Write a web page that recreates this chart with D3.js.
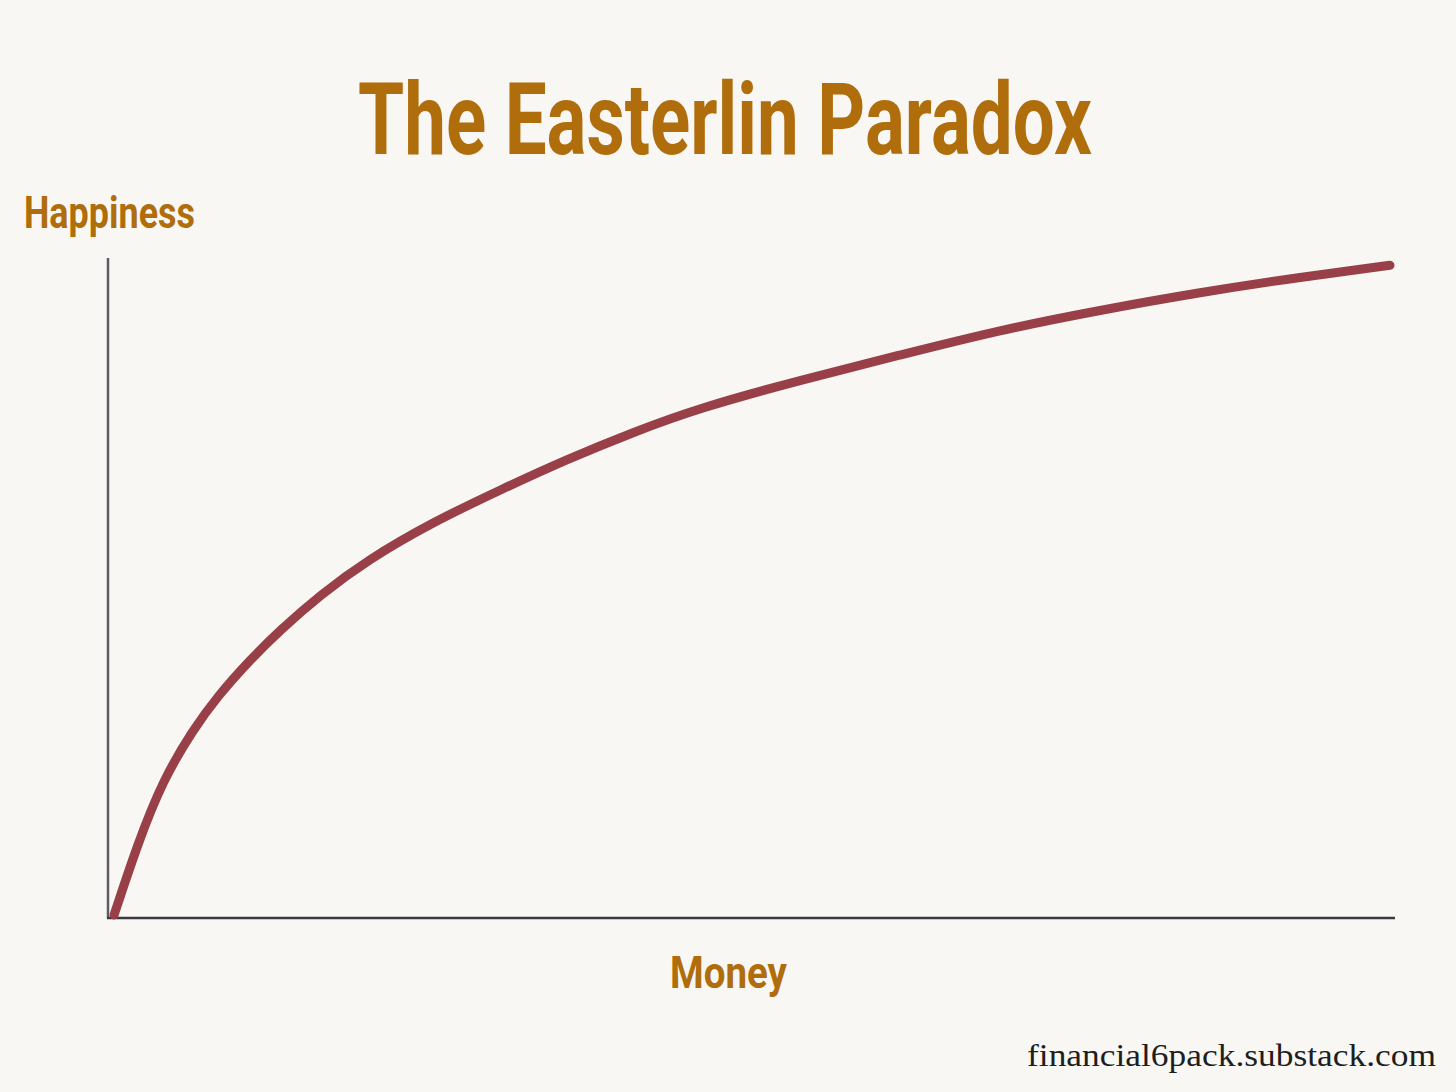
<!DOCTYPE html>
<html><head><meta charset="utf-8">
<script src="https://cdn.jsdelivr.net/npm/d3@7"></script>
<style>html,body{margin:0;padding:0;background:#f8f7f3;}svg{display:block}</style>
</head><body>
<script>
const money = [0.47, 2.33, 4.27, 6.60, 8.47, 11.03, 13.36, 16.47, 20.12, 25.25, 30.46, 35.66, 40.79, 45.98, 53.77, 61.54, 69.31, 77.08, 84.85, 92.62, 99.61];
const happiness = [0.45, 11.4, 20.9, 28.5, 33.5, 39.1, 43.6, 48.9, 54.2, 60.0, 64.85, 69.5, 73.6, 77.3, 81.5, 85.3, 89.1, 92.1, 94.8, 97.1, 98.9];
const title = "The Easterlin Paradox";
const yLabel = "Happiness";
const xLabel = "Money";
const credit = "financial6pack.substack.com";

const W = 1456, H = 1092;
const svg = d3.select("body").append("svg").attr("width", W).attr("height", H);
svg.append("rect").attr("width", W).attr("height", H).attr("fill", "#f8f7f3");

const x = d3.scaleLinear().domain([0, 100]).range([108, 1395]);
const y = d3.scaleLinear().domain([0, 100]).range([918, 258]);

svg.append("line").attr("x1", x(0)).attr("x2", x(0)).attr("y1", y(100)).attr("y2", y(0))
  .attr("stroke", "#5e5e62").attr("stroke-width", 2.5);
svg.append("line").attr("x1", x(0) - 1).attr("x2", x(100)).attr("y1", y(0)).attr("y2", y(0))
  .attr("stroke", "#3a3a40").attr("stroke-width", 2.5);

const pts = money.map((m, i) => [m, happiness[i]]);
const line = d3.line().x(d => x(d[0])).y(d => y(d[1])).curve(d3.curveBasis);
svg.append("path").attr("d", line(pts)).attr("fill", "none")
  .attr("stroke", "#983f48").attr("stroke-width", 9).attr("stroke-linecap", "round");

const labelColor = "#b06d0c";
const font = "'Roboto', sans-serif";
svg.append("text").attr("x", 358).attr("y", 154)
  .attr("font-family", font).attr("font-weight", "bold").attr("font-size", 100)
  .attr("textLength", 734).attr("lengthAdjust", "spacingAndGlyphs")
  .attr("fill", labelColor).text(title);
svg.append("text").attr("x", 24).attr("y", 228)
  .attr("font-family", font).attr("font-weight", "bold").attr("font-size", 44)
  .attr("textLength", 171).attr("lengthAdjust", "spacingAndGlyphs")
  .attr("fill", labelColor).text(yLabel);
svg.append("text").attr("x", 670).attr("y", 988)
  .attr("font-family", font).attr("font-weight", "bold").attr("font-size", 45)
  .attr("textLength", 117).attr("lengthAdjust", "spacingAndGlyphs")
  .attr("fill", labelColor).text(xLabel);
svg.append("text").attr("x", 1027).attr("y", 1066)
  .attr("font-family", "'Liberation Serif', serif").attr("font-size", 32)
  .attr("textLength", 409).attr("lengthAdjust", "spacingAndGlyphs")
  .attr("fill", "#1e1e1e").text(credit);
</script>
</body></html>
